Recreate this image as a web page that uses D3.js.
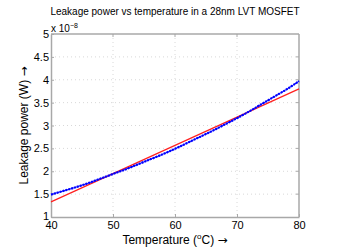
<!DOCTYPE html>
<html>
<head>
<meta charset="utf-8">
<script src="https://cdn.jsdelivr.net/npm/d3@7"></script>
<style>
  body { margin: 0; background: #fff; }
  text { font-family: "Liberation Sans", Arial, sans-serif; fill: #000; }
</style>
</head>
<body>
<script>
var temps = [40, 42, 44, 46, 48, 50, 52, 54, 56, 58, 60, 62, 64, 66, 68, 70, 72, 74, 76, 78, 80];
var leakage = [1.49, 1.57, 1.65, 1.74, 1.84, 1.94, 2.04, 2.15, 2.26, 2.37, 2.49, 2.62, 2.75, 2.88, 3.02, 3.16, 3.31, 3.47, 3.63, 3.79, 3.97];
// linear fit, end points
var fitTemps = [40, 80];
var fitValues = [1.33, 3.80];
var xTicks = [40, 50, 60, 70, 80];
var yTicks = [1, 1.5, 2, 2.5, 3, 3.5, 4, 4.5, 5];

var width = 340, height = 252;
var pLeft = 51, pRight = 299, pTop = 34, pBottom = 217;

var svg = d3.select("body")
  .append("svg")
  .attr("width", width)
  .attr("height", height);

var x = d3.scaleLinear().domain([40, 80]).range([pLeft, pRight]);
var y = d3.scaleLinear().domain([1, 5]).range([pBottom, pTop]);

//grid
svg.append("g").selectAll("line")
  .data(xTicks.slice(1, -1))
  .enter().append("line")
  .attr("x1", d => x(d)).attr("x2", d => x(d))
  .attr("y1", pTop).attr("y2", pBottom)
  .attr("stroke", "#d8d8d8")
  .attr("stroke-dasharray", "1,3");

svg.append("g").selectAll("line")
  .data(yTicks.slice(1, -1))
  .enter().append("line")
  .attr("x1", pLeft).attr("x2", pRight)
  .attr("y1", d => y(d)).attr("y2", d => y(d))
  .attr("stroke", "#d8d8d8")
  .attr("stroke-dasharray", "1,3");

//axes
var xAxis = svg.append("g")
  .attr("transform", "translate(0," + pBottom + ")")
  .call(d3.axisBottom(x).tickValues(xTicks).tickSizeInner(-3).tickSizeOuter(0).tickPadding(4));
var yAxis = svg.append("g")
  .attr("transform", "translate(" + pLeft + ",0)")
  .call(d3.axisLeft(y).tickValues(yTicks).tickSizeInner(-3).tickSizeOuter(0).tickPadding(2).tickFormat(d3.format("")));

[xAxis, yAxis].forEach(function (a) {
  a.select(".domain").attr("stroke", "#a8a8a8").attr("stroke-width", 1.5);
  a.selectAll(".tick line").attr("stroke", "#a8a8a8");
  a.selectAll(".tick text").style("font-size", "11px").attr("fill", "#000");
});
// the lowest label sits a little higher, as in the original
yAxis.selectAll(".tick text").filter(d => d === 1).attr("dy", "0.2em");

//top and right borders
svg.append("line")
  .attr("x1", pLeft).attr("x2", pRight).attr("y1", pTop).attr("y2", pTop)
  .attr("stroke", "#a8a8a8").attr("stroke-width", 1.5);
svg.append("line")
  .attr("x1", pRight).attr("x2", pRight).attr("y1", pTop).attr("y2", pBottom)
  .attr("stroke", "#a8a8a8").attr("stroke-width", 1.5);
svg.append("g").selectAll("line")
  .data(yTicks.slice(1, -1))
  .enter().append("line")
  .attr("x1", pRight).attr("x2", pRight - 3)
  .attr("y1", d => y(d)).attr("y2", d => y(d))
  .attr("stroke", "#a8a8a8");
svg.append("g").selectAll("line")
  .data(xTicks.slice(1, -1))
  .enter().append("line")
  .attr("x1", d => x(d)).attr("x2", d => x(d))
  .attr("y1", pTop).attr("y2", pTop + 3)
  .attr("stroke", "#a8a8a8");

//fit line
var line = d3.line().x(d => x(d[0])).y(d => y(d[1]));
svg.append("path")
  .datum(fitTemps.map((t, i) => [t, fitValues[i]]))
  .attr("d", line)
  .attr("fill", "none")
  .attr("stroke", "#ff2020")
  .attr("stroke-width", 1.2);

//measured data
var pts = temps.map((t, i) => [t, leakage[i]]);
var curve = d3.line().curve(d3.curveMonotoneX).x(d => x(d[0])).y(d => y(d[1]));
svg.append("path")
  .datum(pts)
  .attr("d", curve)
  .attr("fill", "none")
  .attr("stroke", "#0000ff")
  .attr("stroke-width", 1);
svg.append("path")
  .datum(pts)
  .attr("d", curve)
  .attr("fill", "none")
  .attr("stroke", "#0000ff")
  .attr("stroke-width", 2.2)
  .attr("stroke-dasharray", "2,1");

//texts
svg.append("text")
  .attr("x", 175).attr("y", 15)
  .attr("text-anchor", "middle")
  .style("font-size", "10px")
  .text("Leakage power vs temperature in a 28nm LVT MOSFET");

var mult = svg.append("text")
  .attr("x", 51).attr("y", 32)
  .style("font-size", "10px");
mult.append("tspan").text("x 10");
mult.append("tspan").attr("dy", -4).style("font-size", "7px").text("\u22128");

var xl = svg.append("text")
  .attr("x", 175).attr("y", 244)
  .attr("text-anchor", "middle")
  .style("font-size", "12px");
xl.append("tspan").text("Temperature (");
xl.append("tspan").attr("dy", -5).style("font-size", "8px").text("o");
xl.append("tspan").attr("dy", 5).text("C) ");
xl.append("tspan").style("font-family", "DejaVu Sans").text("\u2192");

var yl = svg.append("text")
  .attr("transform", "translate(28," + ((pTop + pBottom) / 2) + ") rotate(-90)")
  .attr("text-anchor", "middle")
  .style("font-size", "12px");
yl.append("tspan").text("Leakage power (W) ");
yl.append("tspan").style("font-family", "DejaVu Sans").text("\u2192");
</script>
</body>
</html>
